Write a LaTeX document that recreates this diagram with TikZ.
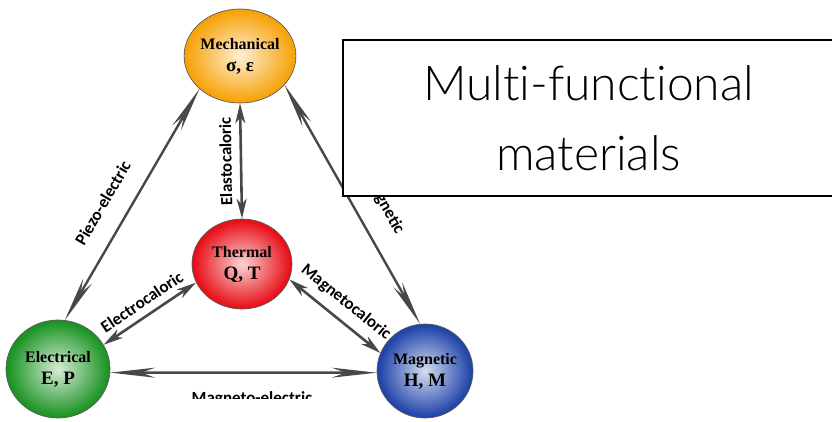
\documentclass[tikz,border=0pt]{standalone}
\usepackage{fontspec}
\setmainfont{Liberation Serif}
\newfontfamily\capfont{Carlito}
\newfontfamily\boxfont{Lato}[UprightFont=* Light,Ligatures=NoCommon]
\usetikzlibrary{arrows.meta,shapes.geometric}
\definecolor{mechcol}{RGB}{247,163,10}
\definecolor{thermcol}{RGB}{232,16,24}
\definecolor{eleccol}{RGB}{28,148,36}
\definecolor{magcol}{RGB}{32,68,170}
\definecolor{arrowgray}{RGB}{72,72,72}
\colorlet{ballin}{white}
\colorlet{ballout}{black}
\pgfdeclareradialshading[ballin,ballout]{orb}{\pgfpoint{0bp}{0bp}}{color(0bp)=(ballin); color(24bp)=(ballout); color(44bp)=(ballout!90!black); color(50bp)=(ballout!74!black)}
\begin{document}
\begin{tikzpicture}[x=1pt,y=-1pt,
	ball/.style={ellipse,draw=black!65,line width=0.7pt,inner sep=0pt,align=center,
		font=\bfseries\fontsize{16}{22}\selectfont,
		/utils/exec={\colorlet{ballout}{#1}\colorlet{ballin}{white!82!#1}},shading=orb},
	shortway/.style={draw=arrowgray,line width=2.6pt,{Stealth[length=20pt,width=10pt,inset=6pt]}-{Stealth[length=20pt,width=10pt,inset=6pt]}},
	longway/.style={draw=arrowgray,line width=2.4pt,{Stealth[length=45pt,width=10pt,inset=14pt]}-{Stealth[length=45pt,width=10pt,inset=14pt]}},
	edgelabel/.style={font=\capfont\bfseries\fontsize{17}{17}\selectfont,inner sep=0pt,text=black},
	titlebox/.style={draw,line width=2pt,fill=white,minimum width=491pt,minimum height=156pt,align=center,
		font=\boxfont\fontsize{48}{70}\selectfont}]
	\useasboundingbox (0,0) rectangle (832,421);
	\node[ball=mechcol,minimum width=106pt,minimum height=94pt] (mech) at (240,56) {Mechanical\\{\fontsize{19}{19}\selectfont σ, ε}};
	\node[ball=thermcol,minimum width=100pt,minimum height=90pt] (therm) at (242,264) {Thermal\\{\fontsize{19}{19}\selectfont Q, T}};
	\node[ball=eleccol,minimum width=104pt,minimum height=98pt] (elec) at (58,369) {Electrical\\{\fontsize{19}{19}\selectfont E, P}};
	\node[ball=magcol,minimum width=96pt,minimum height=94pt] (mag) at (425,371) {Magnetic\\{\fontsize{19}{19}\selectfont H, M}};
	\draw[longway] (mech.219) -- node[edgelabel,pos=0.55,sloped,above=19pt] {Piezo-electric} (elec.82);
	\draw[longway] (mech.327) -- node[edgelabel,pos=0.48,sloped,above=19pt] {Piezo-magnetic} (mag.96);
	\draw[shortway] (therm.north) -- node[edgelabel,sloped,allow upside down,above=8pt] {Elastocaloric} (mech.south);
	\draw[shortway] (elec.28) -- node[edgelabel,sloped,above=7pt] {Electrocaloric} (therm.202);
	\draw[shortway] (therm.342) -- node[edgelabel,sloped,above=9pt] {Magnetocaloric} (mag.158);
	\draw[longway] (elec.356) -- (mag.182);
	\begin{scope}
		\clip (100,380) rectangle (400,398);
		\node[edgelabel,anchor=base] (melabel) at (252,403) {Magneto-electric};
	\end{scope}
	\node[titlebox] (title) at (588.5,118) {Multi-functional\\materials};
\end{tikzpicture}
\end{document}
